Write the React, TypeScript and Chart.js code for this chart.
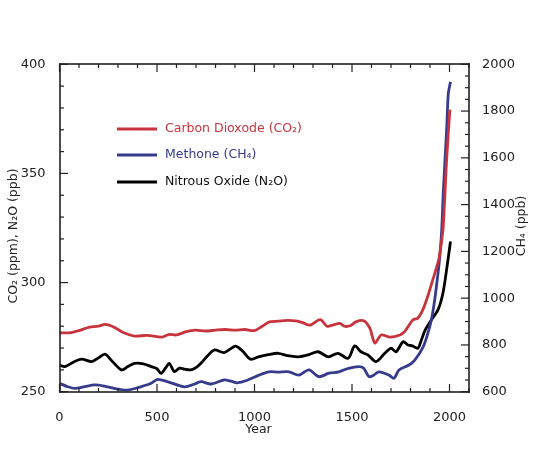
import React, { useEffect, useRef } from "react";
import { Chart, registerables } from "chart.js";

Chart.register(...registerables);

// ---- Data ----
const co2Years = [0, 50, 100, 150, 200, 235, 280, 330, 385, 450, 525, 560, 600, 650, 695, 750, 800, 850, 900, 950, 1000, 1040, 1077, 1120, 1170, 1220, 1250, 1285, 1337, 1372, 1400, 1438, 1460, 1490, 1520, 1560, 1592, 1605, 1618, 1650, 1695, 1746, 1771, 1812, 1837, 1863, 1888, 1914, 1940, 1948, 1958, 1968, 1985, 2002];
const co2Values = [277, 277, 278, 279.5, 280, 280.8, 279.5, 277, 275.5, 275.8, 275, 276.2, 276, 277.5, 278.2, 277.8, 278.2, 278.5, 278.2, 278.5, 278, 280, 282, 282.3, 282.7, 282.3, 281.5, 280.5, 283, 280, 280.5, 281.3, 280, 280.2, 282, 282.5, 279, 275, 272.3, 276, 275, 276, 277.6, 282.9, 283.7, 287.5, 293.6, 301.2, 308.9, 312, 318, 325.7, 356, 379.2];

const ch4Years = [0, 40, 79, 130, 181, 230, 280, 350, 420, 470, 503, 560, 640, 690, 726, 777, 843, 880, 910, 960, 1023, 1074, 1120, 1177, 1228, 1279, 1330, 1382, 1433, 1482, 1536, 1560, 1587, 1610, 1638, 1690, 1715, 1741, 1792, 1822, 1865, 1889, 1907, 1924, 1941, 1950, 1960, 1968, 1977, 1986, 1994, 2005];
const ch4Values = [636, 622, 614, 622, 629, 624, 614, 607, 622, 636, 653, 641, 621, 632, 643, 633, 650, 645, 638, 648, 671, 685, 684, 685, 671, 693, 664, 679, 685, 700, 707, 700, 664, 670, 685, 671, 657, 693, 714, 735, 792, 850, 907, 992, 1106, 1177, 1291, 1448, 1591, 1733, 1876, 1925];

const n2oYears = [0, 28, 70, 113, 165, 200, 233, 270, 318, 350, 385, 430, 470, 500, 521, 545, 563, 589, 615, 640, 674, 700, 725, 760, 793, 844, 875, 904, 940, 980, 1020, 1070, 1122, 1170, 1224, 1280, 1326, 1378, 1428, 1480, 1514, 1546, 1582, 1623, 1668, 1700, 1726, 1762, 1787, 1810, 1838, 1855, 1875, 1907, 1941, 1966, 1985, 2005];
const n2oValues = [262.2, 261.5, 263.5, 264.9, 263.8, 265.5, 267.2, 264, 260, 261.5, 263, 262.8, 261.5, 260.5, 258.4, 261, 263, 259.2, 260.8, 260.3, 260, 261, 263, 266.5, 269.1, 267.9, 269.5, 270.9, 268.5, 264.9, 266, 267, 267.6, 266.5, 266, 267, 268.3, 266, 267.6, 265.3, 271, 268.3, 266.8, 263.8, 267.6, 269.9, 268.3, 272.9, 271.4, 271, 269.9, 273.5, 278.2, 282.9, 287.5, 295, 305.8, 318.8];

const seriesLabels = ["Carbon Dioxode (CO\u2082)", "Methone (CH\u2084)", "Nitrous Oxide (N\u2082O)"];
const seriesColors = ["#c8343d", "#363b8c", "#000000"];

const xTickLabels = [0, 500, 1000, 1500, 2000];
const leftTitle = "CO\u2082 (ppm), N\u2082O (ppb)";
const rightTitle = "CH\u2084 (ppb)";
const bottomTitle = "Year";

const FONT = "'DejaVu Sans', sans-serif";

const zip = (xs: number[], ys: number[]) => xs.map((x, i) => ({ x, y: ys[i] }));

const decorPlugin = {
  id: "decor",
  afterDraw(chart: any) {
    const ctx = chart.ctx as CanvasRenderingContext2D;
    const area = chart.chartArea;
    const left = Math.round(area.left);
    const right = Math.round(area.right);
    const top = Math.round(area.top);
    const bottom = Math.round(area.bottom);
    const sx = chart.scales.x;
    const sy = chart.scales.y;
    const sy2 = chart.scales.y2;
    ctx.save();
    ctx.fillStyle = "#222222";
    const w = 1.6;
    // frame
    ctx.fillRect(left - w / 2, top - w / 2, right - left + w, w);
    ctx.fillRect(left - w / 2, bottom - w / 2, right - left + w, w);
    ctx.fillRect(left - w / 2, top - w / 2, w, bottom - top + w);
    ctx.fillRect(right - w / 2, top - w / 2, w, bottom - top + w);
    // ticks (inward)
    const major = 8;
    const minor = 4;
    const tw = 1.2;
    for (let v = 0; v <= 2100; v += 100) {
      const px = sx.getPixelForValue(v);
      const len = v % 500 === 0 ? major : minor;
      ctx.fillRect(px - tw / 2, bottom - len, tw, len);
      ctx.fillRect(px - tw / 2, top, tw, len);
    }
    for (let v = 250; v <= 400; v += 10) {
      const py = sy.getPixelForValue(v);
      const len = v % 50 === 0 ? major : minor;
      ctx.fillRect(left, py - tw / 2, len, tw);
    }
    for (let v = 600; v <= 2000; v += 50) {
      const py = sy2.getPixelForValue(v);
      const len = v % 200 === 0 ? major : minor;
      ctx.fillRect(right - len, py - tw / 2, len, tw);
    }

    // titles
    ctx.fillStyle = "#222";
    ctx.font = `12.5px ${FONT}`;
    ctx.textAlign = "center";
    ctx.textBaseline = "middle";
    ctx.fillText(bottomTitle, (left + right) / 2 - 6, 430);
    ctx.save();
    ctx.translate(14, (top + bottom) / 2 + 8);
    ctx.rotate(-Math.PI / 2);
    ctx.fillText(leftTitle, 0, 0);
    ctx.restore();
    ctx.save();
    ctx.translate(522, 226);
    ctx.rotate(-Math.PI / 2);
    ctx.fillText(rightTitle, 0, 0);
    ctx.restore();

    // legend inside the plot
    const rows = [129, 155, 182];
    chart.data.datasets.forEach((ds: any, i: number) => {
      const y = rows[i];
      ctx.fillStyle = ds.borderColor;
      ctx.fillRect(117, y - 1.5, 40, 3);
      ctx.fillStyle = i === 2 ? "#111" : ds.borderColor;
      ctx.font = `12.5px ${FONT}`;
      ctx.textAlign = "left";
      ctx.textBaseline = "middle";
      ctx.fillText(ds.label, 165, y);
    });
    ctx.restore();
  },
};

const plain = (v: any) => String(v);

export default function App() {
  const ref = useRef<HTMLCanvasElement>(null);
  useEffect(() => {
    document.body.style.margin = "0";
    const canvas = ref.current!;
    const chart = new Chart(canvas, {
      type: "line",
      data: {
        datasets: [
          {
            label: seriesLabels[0],
            data: zip(co2Years, co2Values),
            borderColor: seriesColors[0],
            yAxisID: "y",
          },
          {
            label: seriesLabels[1],
            data: zip(ch4Years, ch4Values),
            borderColor: seriesColors[1],
            yAxisID: "y2",
          },
          {
            label: seriesLabels[2],
            data: zip(n2oYears, n2oValues),
            borderColor: seriesColors[2],
            yAxisID: "y",
          },
        ].map((d) => ({
          ...d,
          borderWidth: 2.8,
          pointRadius: 0,
          tension: 0.3,
          fill: false,
        })),
      },
      options: {
        responsive: false,
        animation: false,
        layout: { padding: { top: 64.3, left: 0, right: 0, bottom: 0 } },
        plugins: {
          legend: { display: false },
          tooltip: { enabled: false },
        },
        scales: {
          x: {
            type: "linear",
            min: 0,
            max: 2100,
            grid: { display: false },
            border: { display: false },
            afterFit: (s: any) => {
              s.height = 462 - 391.7;
            },
            afterBuildTicks: (s: any) => {
              s.ticks = xTickLabels.map((v) => ({ value: v }));
            },
            ticks: {
              padding: 10,
              color: "#222",
              font: { family: FONT, size: 13 },
              maxRotation: 0,
              callback: plain,
            },
          },
          y: {
            type: "linear",
            position: "left",
            min: 250,
            max: 400,
            grid: { display: false },
            border: { display: false },
            afterFit: (s: any) => {
              s.width = 59.5;
            },
            ticks: {
              stepSize: 50,
              padding: 6,
              color: "#222",
              font: { family: FONT, size: 13 },
              callback: plain,
            },
          },
          y2: {
            type: "linear",
            position: "right",
            min: 600,
            max: 2000,
            grid: { display: false },
            border: { display: false },
            afterFit: (s: any) => {
              s.width = 534 - 469;
            },
            ticks: {
              stepSize: 200,
              padding: 5,
              color: "#222",
              font: { family: FONT, size: 13 },
              callback: plain,
            },
          },
        },
      },
      plugins: [decorPlugin],
    });
    return () => chart.destroy();
  }, []);
  return (
    <div style={{ width: 534, height: 462, background: "#fff" }}>
      <canvas ref={ref} width={534} height={462} />
    </div>
  );
}
